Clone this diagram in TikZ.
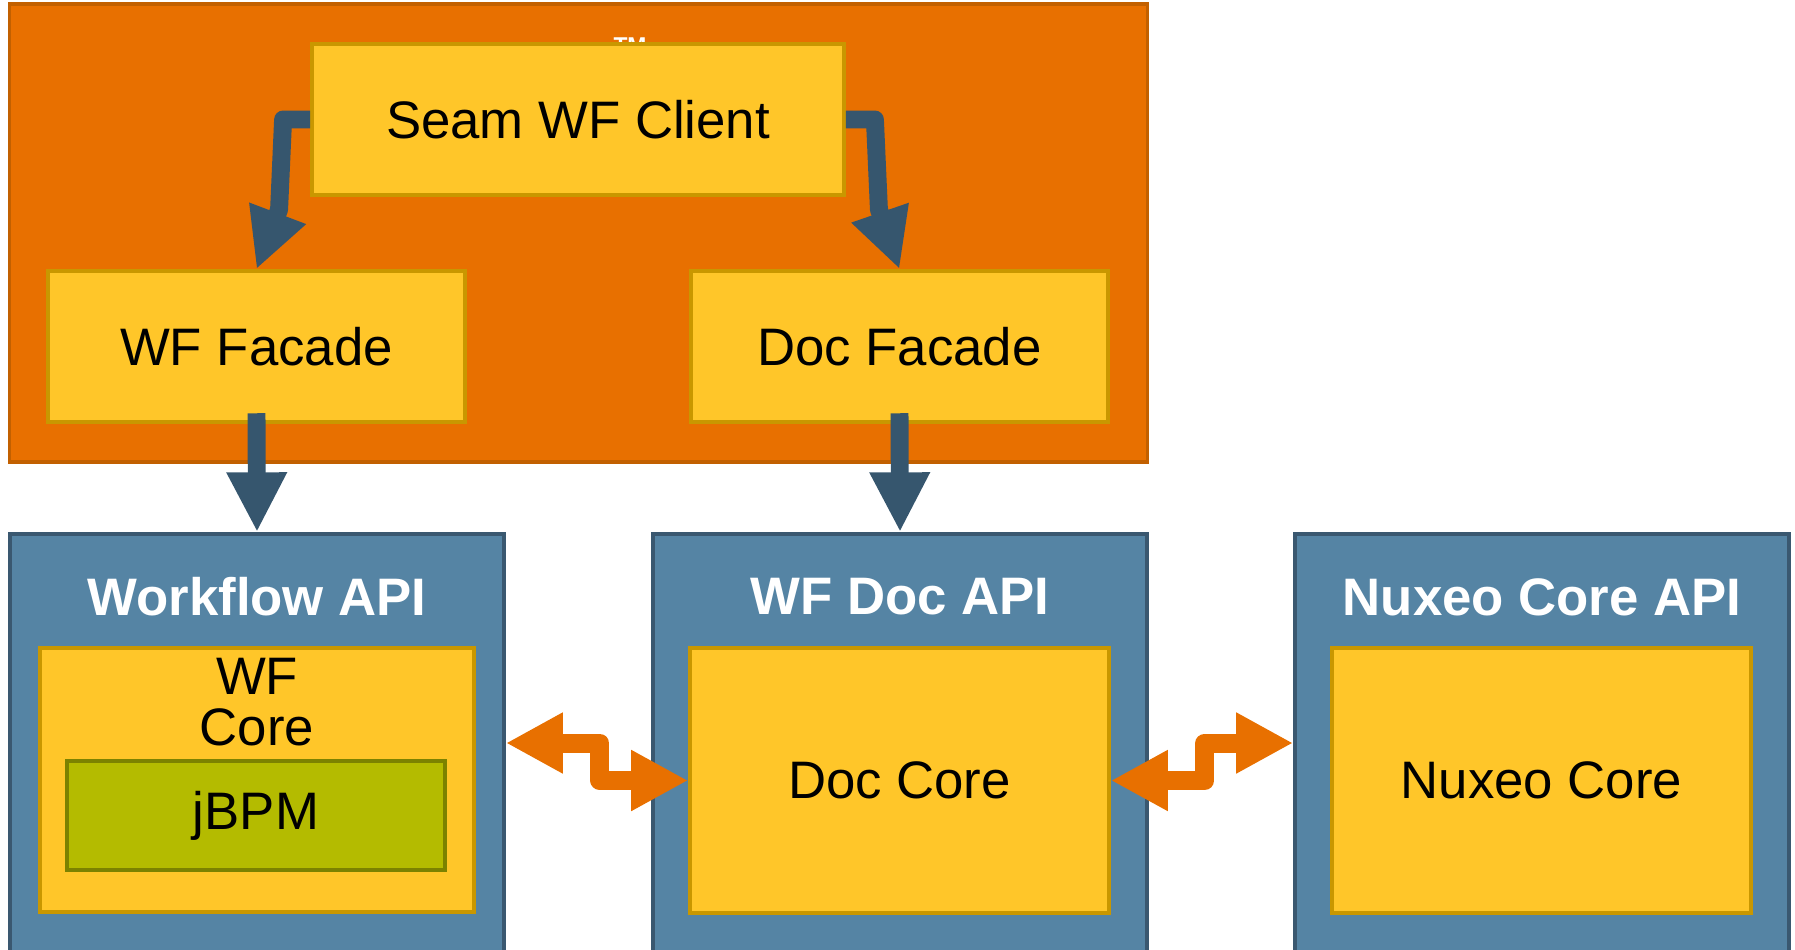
\documentclass[tikz,border=0pt]{standalone}
\usepackage{fontspec}
\setmainfont{Liberation Sans}
\usetikzlibrary{arrows.meta}
\definecolor{seamorange}{HTML}{E87000}
\definecolor{seamorangedark}{HTML}{C26000}
\definecolor{boxyellow}{HTML}{FFC629}
\definecolor{boxyellowdark}{HTML}{C99700}
\definecolor{apiblue}{HTML}{5584A4}
\definecolor{apibluedark}{HTML}{3A5870}
\definecolor{jbpmgreen}{HTML}{B4BB00}
\definecolor{jbpmgreendark}{HTML}{7C8200}
\definecolor{flowblue}{HTML}{36566E}

\begin{document}
\begin{tikzpicture}[x=0.01cm, y=-0.01cm,
	box/.style={draw=boxyellowdark, fill=boxyellow, line width=1pt, inner sep=0pt, font=\fontsize{15}{14.5}\selectfont, align=center},
	api/.style={draw=apibluedark, fill=apiblue, line width=1pt, inner sep=0pt, minimum width=4.94cm, minimum height=4.18cm},
	apititle/.style={text=white, font=\fontsize{15}{18}\selectfont\bfseries, inner sep=0pt},
	flow/.style={draw=flowblue, line width=5.1pt, line join=round, -{Triangle[width=16pt, length=17pt]}},
	link/.style={draw=seamorange, line width=5.4pt, line join=round, {Triangle[width=16.2pt, length=16.2pt]}-{Triangle[width=16.2pt, length=16.2pt]}}]
	\useasboundingbox (0, 0) rectangle (1795, 949);
	\node[draw=seamorangedark, fill=seamorange, line width=1pt, minimum width=11.37cm, minimum height=4.58cm] (seam) at (578.5, 233) {};
	\node[anchor=north, text=white, font=\fontsize{6.5}{7}\selectfont\bfseries, inner sep=0pt] (tm) at (630, 37) {TM};
	\node[box, minimum width=5.32cm, minimum height=1.51cm] (client) at (578, 119.5) {Seam WF Client};
	\node[box, minimum width=4.17cm, minimum height=1.51cm] (wffacade) at (256.5, 346.5) {WF Facade};
	\node[box, minimum width=4.17cm, minimum height=1.51cm] (docfacade) at (899.5, 346.5) {Doc Facade};
	\node[api] (wfapi) at (257, 743) {};
	\node[api] (docapi) at (900, 743) {};
	\node[api] (coreapi) at (1542, 743) {};
	\node[apititle] (wfapititle) at (257, 597) {Workflow API};
	\node[apititle] (docapititle) at (900, 597) {WF Doc API};
	\node[apititle] (coreapititle) at (1542, 597) {Nuxeo Core API};
	\node[box, minimum width=4.34cm, minimum height=2.64cm] (wfcore) at (257, 780) {};
	\node[box, draw=none, fill=none, anchor=north] (wfcoretext) at (257, 656) {WF\\Core};
	\node[box, draw=jbpmgreendark, fill=jbpmgreen, minimum width=3.78cm, minimum height=1.09cm] (jbpm) at (256, 815.5) {jBPM};
	\node[box, minimum width=4.19cm, minimum height=2.65cm] (doccore) at (899.5, 780.5) {Doc Core};
	\node[box, minimum width=4.19cm, minimum height=2.65cm] (nxcore) at (1541.5, 780.5) {Nuxeo Core};
	\draw[flow] (client.west) -- ++(-27, 0) -- ++(-4, 90) -- (wffacade.north);
	\draw[flow] (client.east) -- ++(29, 0) -- ++(4, 90) -- (docfacade.north);
	\draw[flow] ([yshift=3pt]wffacade.south) -- (wfapi.north);
	\draw[flow] ([yshift=3pt]docfacade.south) -- (docapi.north);
	\draw[link] (wfapi.east) -- ++(94, 0) |- (doccore.west);
	\draw[link] (doccore.east) -- ++(94, 0) |- (coreapi.west);
\end{tikzpicture}
\end{document}
